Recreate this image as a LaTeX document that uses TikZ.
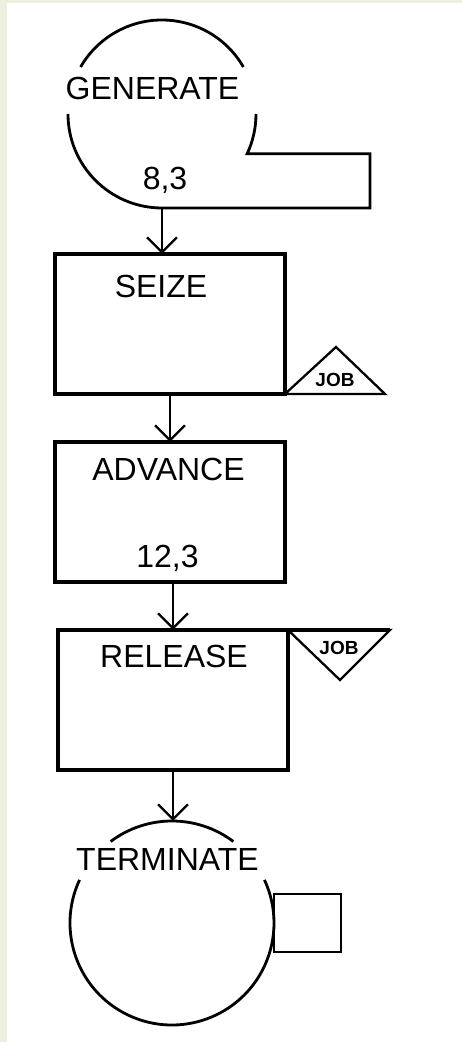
\documentclass[tikz,border=0pt]{standalone}
\usepackage{fontspec}
\setmainfont{Liberation Sans}
\usepackage{xcolor}
\usepackage{tikz}
\usetikzlibrary{arrows.meta}
\definecolor{paper}{RGB}{236, 240, 222}

\begin{document}
\begin{tikzpicture}[x=1pt, y=1pt,
    blockbox/.style={draw, line width=3.3pt, minimum width=230pt, minimum height=140pt, inner sep=0pt, outer sep=0pt},
    blocktext/.style={anchor=base, inner sep=0pt, font=\fontsize{32}{32}\selectfont},
    jobtext/.style={anchor=base, inner sep=0pt, font=\bfseries\fontsize{19}{19}\selectfont},
    ring/.style={circle, inner sep=0pt, outer sep=0pt},
    ringline/.style={line width=2.8pt},
    triline/.style={line width=2.3pt, line join=miter},
    flow/.style={line width=2.8pt, -{Straight Barb[length=15pt, width=30pt, line width=2.3pt]}}]
    \useasboundingbox (0,0) rectangle (462,1042);
    % Paper
    \fill[paper] (0,0) rectangle (462,1042);
    \fill[white] (7,0) rectangle (462,1039);

    % GENERATE block
    \node[ring, minimum size=188pt] (gen) at (162,928) {};
    \coordinate (gencorner) at (370,834);
    \draw[ringline] (gen.30) arc[start angle=30, end angle=150, radius=94];
    \draw[ringline, line join=miter] (gen.180) arc[start angle=180, end angle=270, radius=94]
        -- (gencorner) |- (gen.-25) arc[start angle=-25, end angle=0, radius=94];
    \node[blocktext] (gentitle) at (152.5,942) {GENERATE};
    \node[blocktext] (genargs) at (165,852) {8,3};

    % SEIZE block
    \node[blockbox] (seize) at (170,718) {};
    \node[blocktext] (seizetitle) at (161,744) {SEIZE};
    \coordinate (seizetop) at (336,695);
    \coordinate (seizeend) at (385,648);
    \draw[triline] (seize.south east) -- (seizetop) -- (seizeend) -- cycle;
    \node[jobtext] (seizejob) at (335,655) {JOB};

    % ADVANCE block
    \node[blockbox] (advance) at (170,530) {};
    \node[blocktext] (advancetitle) at (168.5,561) {ADVANCE};
    \node[blocktext] (advanceargs) at (167.5,474) {12,3};

    % RELEASE block
    \node[blockbox] (release) at (173,342) {};
    \node[blocktext] (releasetitle) at (174,374) {RELEASE};
    \coordinate (releaseend) at (390,412);
    \coordinate (releasetip) at (340,362);
    \draw[triline] (release.north east) -- (releaseend) -- (releasetip) -- cycle;
    \draw[line width=3.3pt] (release.north east) -- (releaseend);
    \node[jobtext] (releasejob) at (339,387) {JOB};

    % TERMINATE block
    \node[ring, minimum size=204pt] (term) at (172,119) {};
    \draw[ringline] (term.53) arc[start angle=53, end angle=127, radius=102];
    \draw[ringline] (term.155) arc[start angle=155, end angle=385, radius=102];
    \node[blocktext] (termtitle) at (167.5,171) {TERMINATE};
    \node[draw, line width=2.8pt, minimum width=67pt, minimum height=58pt, inner sep=0pt, outer sep=0pt, anchor=west] (termbox) at (term.east) {};

    % Flow
    \draw[flow] (gen.south) -- (gen.south |- seize.north);
    \draw[flow] (seize.south) -- (advance.north);
    \draw[flow] (release.north |- advance.south) -- (release.north);
    \draw[flow] (release.south) -- (release.south |- term.north);
\end{tikzpicture}
\end{document}
